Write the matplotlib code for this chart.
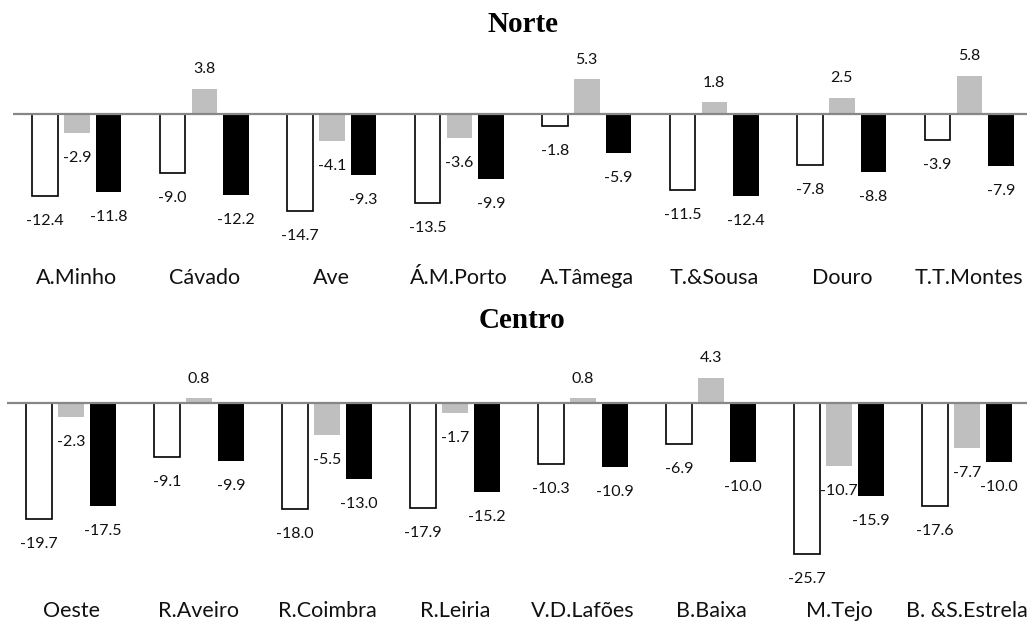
import numpy as np
import matplotlib
matplotlib.use("Agg")
from matplotlib import pyplot as plt
from matplotlib.transforms import blended_transform_factory

W, H = 1027, 621

norte_cats = ["A.Minho", "Cávado", "Ave", "Á.M.Porto", "A.Tâmega", "T.&Sousa", "Douro", "T.T.Montes"]
norte_white = [-12.4, -9.0, -14.7, -13.5, -1.8, -11.5, -7.8, -3.9]
norte_gray = [-2.9, 3.8, -4.1, -3.6, 5.3, 1.8, 2.5, 5.8]
norte_black = [-11.8, -12.2, -9.3, -9.9, -5.9, -12.4, -8.8, -7.9]

centro_cats = ["Oeste", "R.Aveiro", "R.Coimbra", "R.Leiria", "V.D.Lafões", "B.Baixa", "M.Tejo", "B. &S.Estrela"]
centro_white = [-19.7, -9.1, -18.0, -17.9, -10.3, -6.9, -25.7, -17.6]
centro_gray = [-2.3, 0.8, -5.5, -1.7, 0.8, 4.3, -10.7, -7.7]
centro_black = [-17.5, -9.9, -13.0, -15.2, -10.9, -10.0, -15.9, -10.0]

LABEL_FONT = "Lato"
TITLE_FONT = "Liberation Serif"


def px_axes(fig, left, top, right, bottom):
    # axes box given in pixels measured from the top-left corner
    return fig.add_axes([left / W, 1 - bottom / H, (right - left) / W, (bottom - top) / H])


def panel(ax, cats, white, gray, black, ylim, label_y):
    x = np.arange(len(cats))
    ax.bar(x - 0.25, white, 0.2, color="white", edgecolor="black", linewidth=1.2, zorder=2)
    ax.bar(x, gray, 0.2, color="#bfbfbf", linewidth=0, zorder=2)
    ax.bar(x + 0.25, black, 0.2, color="black", linewidth=0, zorder=2)
    ax.axhline(0, color="#878787", linewidth=1.6, zorder=3)

    for off, vals in ((-0.25, white), (0, gray), (0.25, black)):
        for xi, v in zip(x + off, vals):
            ax.annotate(f"{v:.1f}", (xi, v), xytext=(0, 14 if v > 0 else -18),
                        textcoords="offset points", ha="center", va="center",
                        fontsize=11.5, family=LABEL_FONT, color="#111111")

    tr = blended_transform_factory(ax.transData, ax.transAxes)
    for xi, c in zip(x, cats):
        ax.text(xi, label_y, c, transform=tr, ha="center", va="baseline",
                fontsize=15.5, family=LABEL_FONT, color="#111111")

    ax.set_xlim(-0.5, len(cats) - 0.5)
    ax.set_ylim(*ylim)
    ax.axis("off")


fig = plt.figure(figsize=(W / 100, H / 100), dpi=100)

# Norte: zero line at 114 px, 6.6 px per unit
ax1 = px_axes(fig, 13, 40, 1033, 258)
panel(ax1, norte_cats, norte_white, norte_gray, norte_black,
      ((114 - 258) / 6.6, (114 - 40) / 6.6), -(284 - 258) / 218)

# Centro: zero line at 403 px, 5.88 px per unit
ax2 = px_axes(fig, 7, 345, 1031, 590)
panel(ax2, centro_cats, centro_white, centro_gray, centro_black,
      ((403 - 590) / 5.88, (403 - 345) / 5.88), -(617 - 590) / 245)

fig.text(523 / W, 1 - 32 / H, "Norte", ha="center", va="baseline",
         fontsize=21, fontweight="bold", family=TITLE_FONT)
fig.text(522 / W, 1 - 328 / H, "Centro", ha="center", va="baseline",
         fontsize=21, fontweight="bold", family=TITLE_FONT)

fig.savefig("out.png", dpi=100, facecolor="white")
